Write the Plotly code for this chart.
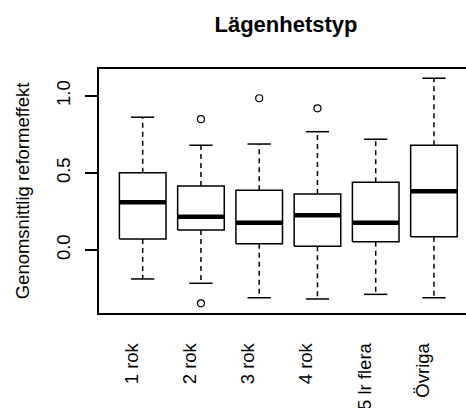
import plotly.graph_objects as go

# Box statistics per apartment type (Lägenhetstyp)
categories = ["1 rok", "2 rok", "3 rok", "4 rok", "5 lr flera", "Övriga"]
lower_whisker = [-0.188, -0.216, -0.310, -0.318, -0.288, -0.310]
q1 = [0.071, 0.130, 0.041, 0.024, 0.054, 0.086]
median = [0.310, 0.216, 0.177, 0.225, 0.177, 0.381]
q3 = [0.502, 0.416, 0.388, 0.364, 0.440, 0.680]
upper_whisker = [0.862, 0.680, 0.688, 0.768, 0.719, 1.115]

# Outliers: (category index, value)
outlier_group = [2, 2, 3, 4]
outlier_value = [0.849, -0.346, 0.985, 0.920]

ytick_vals = [0.0, 0.5, 1.0]
ytick_text = ["0.0", "0.5", "1.0"]

FONT = "Liberation Sans, Arial, sans-serif"
BOX_HALF = 0.4
CAP_HALF = 0.2
LW = 1.5

pos = list(range(1, len(categories) + 1))

box_x, box_y = [], []
med_x, med_y = [], []
wh_x, wh_y = [], []
cap_x, cap_y = [], []
for i, p in enumerate(pos):
    box_x += [p - BOX_HALF, p + BOX_HALF, p + BOX_HALF, p - BOX_HALF, p - BOX_HALF, None]
    box_y += [q1[i], q1[i], q3[i], q3[i], q1[i], None]
    med_x += [p - BOX_HALF, p + BOX_HALF, None]
    med_y += [median[i], median[i], None]
    wh_x += [p, p, None, p, p, None]
    wh_y += [q3[i], upper_whisker[i], None, q1[i], lower_whisker[i], None]
    cap_x += [p - CAP_HALF, p + CAP_HALF, None, p - CAP_HALF, p + CAP_HALF, None]
    cap_y += [upper_whisker[i], upper_whisker[i], None, lower_whisker[i], lower_whisker[i], None]

fig = go.Figure()
fig.add_trace(go.Scatter(x=wh_x, y=wh_y, mode="lines",
                         line=dict(color="black", width=LW, dash="5px,4px"),
                         hoverinfo="skip"))
fig.add_trace(go.Scatter(x=cap_x, y=cap_y, mode="lines",
                         line=dict(color="black", width=LW), hoverinfo="skip"))
fig.add_trace(go.Scatter(x=box_x, y=box_y, mode="lines", fill="toself",
                         fillcolor="white",
                         line=dict(color="black", width=LW), hoverinfo="skip"))
fig.add_trace(go.Scatter(x=med_x, y=med_y, mode="lines",
                         line=dict(color="black", width=4.5), hoverinfo="skip"))
fig.add_trace(go.Scatter(x=outlier_group, y=outlier_value, mode="markers",
                         marker=dict(symbol="circle-open", size=7, color="black",
                                     line=dict(width=1.2, color="black")),
                         hoverinfo="skip"))

fig.update_layout(
    width=466, height=408,
    margin=dict(l=99, r=0, t=69, b=95, autoexpand=False),
    paper_bgcolor="white", plot_bgcolor="white",
    showlegend=False,
    font=dict(family=FONT, size=18.5, color="black"),
    title=dict(text="<b>Lägenhetstyp</b>", font=dict(family=FONT, size=22, color="black"),
               x=286 / 466, xref="container", xanchor="center",
               y=1 - 24 / 408, yref="container", yanchor="middle"),
    xaxis=dict(range=[0.25, 6.55], tickvals=pos, ticktext=categories,
               tickangle=-90, ticks="", showgrid=False, zeroline=False,
               showline=True, mirror=True, linecolor="black", linewidth=LW,
               ticklabelshift=-11, ticklabelstandoff=21,
               tickfont=dict(family=FONT, size=18.5, color="black"),
               fixedrange=True),
    yaxis=dict(range=[-0.409, 1.175], tickvals=ytick_vals, ticktext=ytick_text,
               tickangle=-90, ticks="outside", ticklen=12, tickwidth=LW,
               tickcolor="black", showgrid=False, zeroline=False,
               showline=True, mirror=False, linecolor="black", linewidth=LW,
               ticklabelstandoff=8,
               tickfont=dict(family=FONT, size=18.5, color="black"),
               title=dict(text="Genomsnittlig reformeffekt", standoff=18,
                          font=dict(family=FONT, size=18.5, color="black")),
               fixedrange=True),
)

fig.write_html("out.html")
